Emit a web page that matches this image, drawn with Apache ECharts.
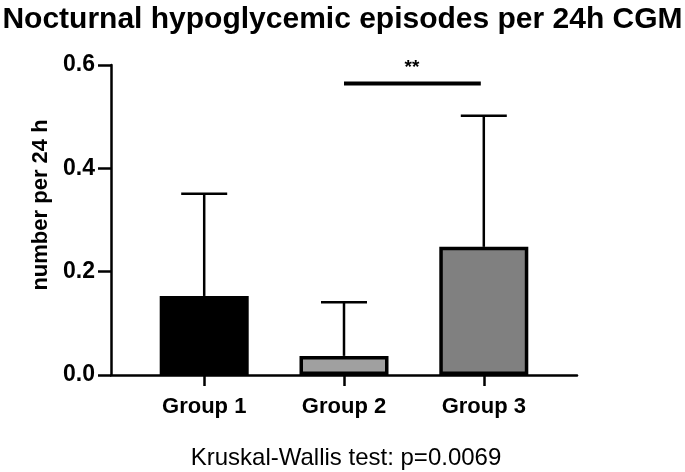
<!DOCTYPE html>
<html>
<head>
<meta charset="utf-8">
<script src="https://cdn.jsdelivr.net/npm/echarts@6/dist/echarts.min.js"></script>
<style>html,body{margin:0;padding:0;background:#fff}#c{width:685px;height:472px}</style>
</head>
<body>
<div id="c"></div>
<script>
const categories = ['Group 1', 'Group 2', 'Group 3'];
const means = [0.153, 0.037, 0.248];
const errorTops = [0.351, 0.141, 0.502];
const barColors = ['#000000', '#a0a0a0', '#808080'];
const yTicks = [0, 0.2, 0.4, 0.6];
const sigFrom = 1, sigTo = 2, sigY = 0.564, sigText = '**';

const chart = echarts.init(document.getElementById('c'), null, {renderer: 'canvas'});
const F = 'Liberation Sans, Arial, sans-serif';
chart.setOption({
  animation: false,
  backgroundColor: '#fff',
  title: [
    {text: 'Nocturnal hypoglycemic episodes per 24h CGM', left: 'center', top: 0,
     textStyle: {fontFamily: F, fontSize: 30, fontWeight: 'bold', color: '#000'}},
    {text: 'Kruskal-Wallis test: p=0.0069', left: 341, textAlign: 'center', top: 441,
     textStyle: {fontFamily: F, fontSize: 24, fontWeight: 'normal', color: '#000'}}
  ],
  grid: {left: 111, right: 108, top: 65, bottom: 97},
  xAxis: {
    type: 'value', min: -2/3, max: 8/3,
    axisLine: {show: true, onZero: false, lineStyle: {color: '#000', width: 2.5}},
    axisTick: {show: true, customValues: [0, 1, 2], length: 11, lineStyle: {color: '#000', width: 2.5}},
    axisLabel: {show: true, customValues: [0, 1, 2], formatter: v => categories[Math.round(v)],
      fontFamily: F, fontSize: 22, fontWeight: 'bold', color: '#000', margin: 21},
    splitLine: {show: false}
  },
  yAxis: {
    type: 'value', min: 0, max: 0.6, interval: 0.2,
    name: 'number per 24 h', nameLocation: 'middle', nameGap: 58, nameRotate: 90,
    nameTextStyle: {fontFamily: F, fontSize: 22, fontWeight: 'bold', color: '#000', padding: [0, 0, 0, 30]},
    axisLine: {show: true, onZero: false, lineStyle: {color: '#000', width: 2.5}},
    axisTick: {show: true, length: 13, lineStyle: {color: '#000', width: 2.5}},
    axisLabel: {formatter: v => v.toFixed(1), fontFamily: F, fontSize: 23, fontWeight: 'bold', color: '#000', margin: 16},
    splitLine: {show: false}
  },
  series: [
    {
      type: 'custom',
      z: 1,
      data: categories.map((c, i) => [i, means[i], errorTops[i]]),
      renderItem: function (params, api) {
        const x = api.value(0);
        const top = api.coord([x, api.value(2)]);
        const base = api.coord([x, api.value(1)]);
        const half = 23;
        return {type: 'group', children: [
          {type: 'line', shape: {x1: base[0], y1: base[1], x2: top[0], y2: top[1]}, style: {stroke: '#000', lineWidth: 2.5}},
          {type: 'line', shape: {x1: top[0] - half, y1: top[1], x2: top[0] + half, y2: top[1]}, style: {stroke: '#000', lineWidth: 2.5}}
        ]};
      }
    },
    {
      type: 'bar',
      z: 2,
      barWidth: 89,
      data: categories.map((c, i) => ({value: [i, means[i]], itemStyle: {color: barColors[i], borderColor: '#000', borderWidth: 3.5}}))
    },
    {
      type: 'custom',
      z: 3,
      data: [[sigFrom, sigTo, sigY]],
      renderItem: function (params, api) {
        const a = api.coord([api.value(0), api.value(2)]);
        const b = api.coord([api.value(1), api.value(2)]);
        return {type: 'group', children: [
          {type: 'line', shape: {x1: a[0], y1: a[1], x2: b[0] - 3, y2: b[1]}, style: {stroke: '#000', lineWidth: 4}},
          {type: 'text', x: (a[0] + b[0]) / 2 - 2, y: a[1] - 6, style: {text: sigText, fontFamily: F, fontSize: 19, fontWeight: 'bold', fill: '#000', align: 'center', verticalAlign: 'bottom'}}
        ]};
      }
    }
  ]
});
</script>
</body>
</html>
